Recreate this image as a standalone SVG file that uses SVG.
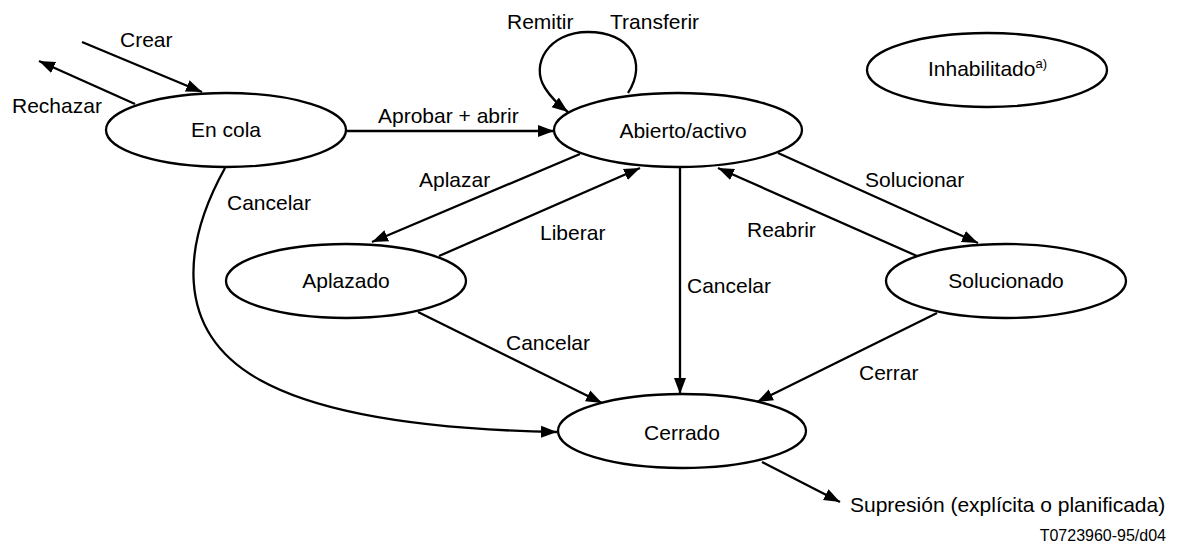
<svg xmlns="http://www.w3.org/2000/svg" width="1179" height="549" viewBox="0 0 1179 549">
<style>
text{font-family:"Liberation Sans",Arial,sans-serif;font-size:21px;fill:#000}
.node ellipse{fill:#fff;stroke:#000;stroke-width:2.3}
.node text{text-anchor:middle}
.c{fill:none;stroke:#000;stroke-width:2.3}
</style>
<defs>
<marker id="ah" markerUnits="userSpaceOnUse" markerWidth="17" markerHeight="15" viewBox="0 0 17 15" refX="16" refY="7.5" orient="auto">
<path d="M0,1.5 L16,7.5 L0,13.5 Z" fill="#000"/>
</marker>
</defs>
<rect width="1179" height="549" fill="#fff"/>
<g id="connectors">
<line class="c" x1="82" y1="42" x2="202" y2="92" marker-end="url(#ah)"/>
<line class="c" x1="135" y1="104" x2="39" y2="61" marker-end="url(#ah)"/>
<line class="c" x1="347" y1="131" x2="554" y2="131" marker-end="url(#ah)"/>
<path class="c" d="M628,93 C648,62 630,32 588,32 C548,32 530,65 545,88 C550,96 556,103 568,112" marker-end="url(#ah)"/>
<line class="c" x1="580" y1="154" x2="372" y2="242" marker-end="url(#ah)"/>
<line class="c" x1="439" y1="256" x2="640" y2="168" marker-end="url(#ah)"/>
<line class="c" x1="680" y1="168" x2="680" y2="394" marker-end="url(#ah)"/>
<line class="c" x1="778" y1="153" x2="978" y2="243" marker-end="url(#ah)"/>
<line class="c" x1="917" y1="256" x2="718" y2="168" marker-end="url(#ah)"/>
<line class="c" x1="418" y1="312" x2="602" y2="403" marker-end="url(#ah)"/>
<line class="c" x1="937" y1="313" x2="757" y2="402" marker-end="url(#ah)"/>
<path class="c" d="M225,168 C185,240 170,330 260,380 C330,419 450,430 557,432" marker-end="url(#ah)"/>
<line class="c" x1="762" y1="462" x2="840" y2="502" marker-end="url(#ah)"/>
<text x="120" y="47">Crear</text>
<text x="12" y="113">Rechazar</text>
<text x="378" y="123">Aprobar + abrir</text>
<text x="507" y="29">Remitir</text>
<text x="610" y="29">Transferir</text>
<text x="419" y="187">Aplazar</text>
<text x="227" y="210">Cancelar</text>
<text x="540" y="240">Liberar</text>
<text x="506" y="350">Cancelar</text>
<text x="687" y="293">Cancelar</text>
<text x="747" y="237">Reabrir</text>
<text x="865" y="187">Solucionar</text>
<text x="859" y="380">Cerrar</text>
<text x="850" y="512">Supresión (explícita o planificada)</text>
</g>
<g id="en-cola" class="node"><ellipse cx="226" cy="130" rx="120" ry="37"/><text x="226" y="137">En cola</text></g>
<g id="abierto" class="node"><ellipse cx="678" cy="130" rx="124" ry="37"/><text x="683" y="138">Abierto/activo</text></g>
<g id="inhabilitado" class="node"><ellipse cx="987" cy="70" rx="120" ry="37"/><text x="928" y="76" style="text-anchor:start">Inhabilitado<tspan style="font-size:13px" dy="-8">a)</tspan></text></g>
<g id="aplazado" class="node"><ellipse cx="346" cy="281" rx="120" ry="37"/><text x="346" y="288">Aplazado</text></g>
<g id="solucionado" class="node"><ellipse cx="1006" cy="281" rx="120" ry="37"/><text x="1006" y="288">Solucionado</text></g>
<g id="cerrado" class="node"><ellipse cx="682" cy="431" rx="124" ry="37"/><text x="682" y="440">Cerrado</text></g>
<text x="1166" y="541" text-anchor="end" style="font-size:16px">T0723960-95/d04</text>
</svg>
